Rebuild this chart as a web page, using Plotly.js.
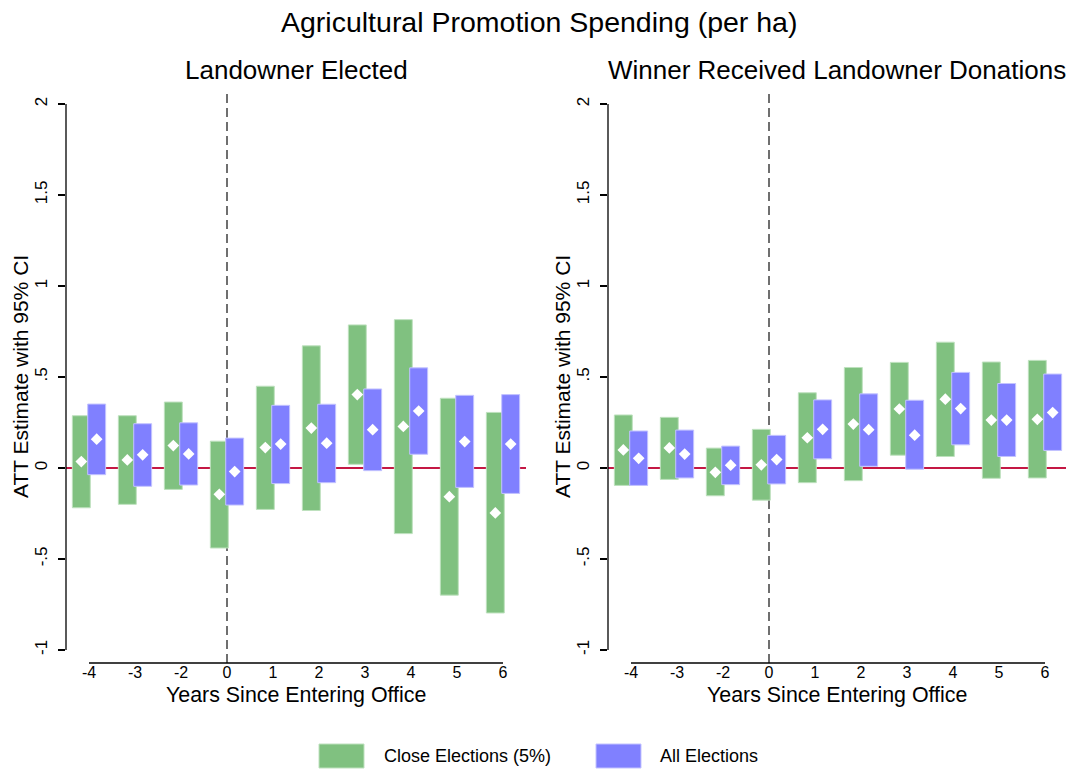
<!DOCTYPE html>
<html>
<head>
<meta charset="utf-8">
<script src="https://cdn.plot.ly/plotly-3.0.1.min.js"></script>
<style>html,body{margin:0;padding:0;background:#fff;}#chart{width:1066px;height:771px;}</style>
</head>
<body>
<div id="chart"></div>
<script>
// ---- data ----
const categories = ["-4","-3","-2","0","1","2","3","4","5","6"];
const yTickVals = [-1, -0.5, 0, 0.5, 1, 1.5, 2];
const yTickText = ["-1", "-.5", "0", ".5", "1", "1.5", "2"];

// Panel 1: Landowner Elected
const closeEst1 = [0.035, 0.044, 0.123, -0.145, 0.112, 0.219, 0.403, 0.228, -0.158, -0.247];
const closeLo1  = [-0.219, -0.200, -0.118, -0.440, -0.228, -0.234, 0.020, -0.361, -0.699, -0.797];
const closeHi1  = [0.287, 0.287, 0.362, 0.147, 0.449, 0.671, 0.786, 0.815, 0.383, 0.305];
const allEst1   = [0.158, 0.072, 0.077, -0.020, 0.131, 0.136, 0.210, 0.313, 0.145, 0.131];
const allLo1    = [-0.037, -0.101, -0.094, -0.204, -0.086, -0.081, -0.015, 0.075, -0.107, -0.140];
const allHi1    = [0.351, 0.243, 0.248, 0.164, 0.344, 0.350, 0.434, 0.550, 0.399, 0.403];

// Panel 2: Winner Received Landowner Donations
const closeEst2 = [0.099, 0.110, -0.024, 0.017, 0.166, 0.241, 0.324, 0.378, 0.263, 0.267];
const closeLo2  = [-0.096, -0.063, -0.153, -0.177, -0.081, -0.070, 0.070, 0.063, -0.057, -0.055];
const closeHi2  = [0.291, 0.278, 0.109, 0.212, 0.413, 0.552, 0.580, 0.691, 0.582, 0.591];
const allEst2   = [0.053, 0.076, 0.015, 0.046, 0.212, 0.210, 0.180, 0.326, 0.263, 0.304];
const allLo2    = [-0.096, -0.055, -0.092, -0.088, 0.050, 0.009, -0.007, 0.127, 0.063, 0.096];
const allHi2    = [0.203, 0.208, 0.120, 0.179, 0.374, 0.407, 0.372, 0.525, 0.464, 0.516];

const seriesNames = ["Close Elections (5%)", "All Elections"];
const panelTitles = ["Landowner Elected", "Winner Received Landowner Donations"];
const mainTitle = "Agricultural Promotion Spending (per ha)";
const xTitle = "Years Since Entering Office";
const yTitle = "ATT Estimate with 95% CI";

// ---- styling ----
const FONT = "Liberation Sans, Arial, Helvetica, sans-serif";
const GREEN = "rgb(128,193,128)";
const BLUE = "rgb(128,128,255)";
const GREEN_EDGE = "rgb(190,225,190)";
const BLUE_EDGE = "rgb(195,195,255)";
const BAR_W = 0.39;
const SHIFT = 0.167;
const W = 1066, H = 771;
const idx = categories.map((c, i) => i);

function px(x) { return x / W; }
function py(y) { return 1 - y / H; }

function panelTraces(est, lo, hi, estB, loB, hiB, xa, ya) {
  const t = [];
  t.push({type: "bar", x: idx, base: lo, y: hi.map((h, i) => h - lo[i]), width: BAR_W, offset: -SHIFT - BAR_W / 2,
    marker: {color: GREEN, line: {color: GREEN_EDGE, width: 1}}, xaxis: xa, yaxis: ya, showlegend: false, hoverinfo: "skip"});
  t.push({type: "bar", x: idx, base: loB, y: hiB.map((h, i) => h - loB[i]), width: BAR_W, offset: SHIFT - BAR_W / 2,
    marker: {color: BLUE, line: {color: BLUE_EDGE, width: 1}}, xaxis: xa, yaxis: ya, showlegend: false, hoverinfo: "skip"});
  t.push({type: "scatter", mode: "markers", x: idx.map(i => i - SHIFT), y: est,
    marker: {symbol: "diamond", color: "white", size: 9}, xaxis: xa, yaxis: ya, showlegend: false, cliponaxis: false});
  t.push({type: "scatter", mode: "markers", x: idx.map(i => i + SHIFT), y: estB,
    marker: {symbol: "diamond", color: "white", size: 9}, xaxis: xa, yaxis: ya, showlegend: false, cliponaxis: false});
  return t;
}

const traces = [].concat(
  panelTraces(closeEst1, closeLo1, closeHi1, allEst1, allLo1, allHi1, "x", "y"),
  panelTraces(closeEst2, closeLo2, closeHi2, allEst2, allLo2, allHi2, "x2", "y2")
);

const plotTop = 104, plotBot = 663;
const p1 = [66, 526], p2 = [608, 1066];
const yDomain = [py(plotBot), py(plotTop)];

function xAxis(dom, range, anchor) {
  return {domain: dom, range: range, anchor: anchor, tickmode: "array", tickvals: idx, ticktext: categories,
    showgrid: false, zeroline: false, showline: false, ticks: "", ticklabelstandoff: -2,
    tickfont: {family: FONT, size: 16, color: "#000"}, fixedrange: true};
}
function yAxis(anchor) {
  return {domain: yDomain, range: [-1.072, 2], anchor: anchor, tickmode: "array", tickvals: yTickVals, ticktext: yTickText,
    tickangle: -90, showgrid: false, zeroline: false, showline: false, ticks: "outside", ticklen: 7, tickwidth: 1.3,
    tickcolor: "#000", ticklabelstandoff: 4, tickfont: {family: FONT, size: 17, color: "#000"}, fixedrange: true};
}

const shapes = [];
const annotations = [];
[["x", "y", p1], ["x2", "y2", p2]].forEach(([xa, ya, p]) => {
  // y axis line from -1 to 2
  shapes.push({type: "line", xref: "paper", yref: ya, x0: px(p[0]), x1: px(p[0]), y0: -1, y1: 2, line: {color: "#000", width: 1.3}});
  // x axis line from first to last category
  shapes.push({type: "line", xref: xa, yref: "paper", x0: 0, x1: categories.length - 1, y0: py(plotBot), y1: py(plotBot), line: {color: "#000", width: 1.3}});
  // zero reference line
  shapes.push({type: "line", xref: "paper", yref: ya, x0: px(p[0]), x1: px(p[1]), y0: 0, y1: 0, line: {color: "rgb(196,24,68)", width: 2}, layer: "below"});
  // dashed line at year 0
  const zi = categories.indexOf("0");
  shapes.push({type: "line", xref: xa, yref: "paper", x0: zi, x1: zi, y0: py(plotBot), y1: py(90), line: {color: "#333", width: 1.4, dash: "9px,5px"}, layer: "below"});
});

const centers = [(p1[0] + p1[1]) / 2, (p2[0] + p2[1]) / 2];
const yAxisX = [p1[0], p2[0]];
panelTitles.forEach((t, i) => {
  annotations.push({text: t, xref: "paper", yref: "paper", x: px(centers[i]), y: py(70), xanchor: "center", yanchor: "middle", showarrow: false,
    font: {family: FONT, size: 26, color: "#000"}});
  annotations.push({text: xTitle, xref: "paper", yref: "paper", x: px(centers[i]), y: py(695), xanchor: "center", yanchor: "middle", showarrow: false,
    font: {family: FONT, size: 21.4, color: "#000"}});
  annotations.push({text: yTitle, xref: "paper", yref: "paper", x: px(yAxisX[i] - 46), y: py(377), xanchor: "center", yanchor: "middle", textangle: -90, showarrow: false,
    font: {family: FONT, size: 21, color: "#000"}});
});
annotations.push({text: mainTitle, xref: "paper", yref: "paper", x: px(539), y: py(22), xanchor: "center", yanchor: "middle", showarrow: false,
  font: {family: FONT, size: 28.5, color: "#000"}});

// legend (drawn manually)
const legendItems = [
  {name: seriesNames[0], color: GREEN, edge: GREEN_EDGE, x0: 319, x1: 364, tx: 382},
  {name: seriesNames[1], color: BLUE, edge: BLUE_EDGE, x0: 596, x1: 641, tx: 658}
];
legendItems.forEach(it => {
  shapes.push({type: "rect", xref: "paper", yref: "paper", x0: px(it.x0), x1: px(it.x1), y0: py(768), y1: py(744), fillcolor: it.color, line: {color: it.edge, width: 1}});
  annotations.push({text: it.name, xref: "paper", yref: "paper", x: px(it.tx), y: py(756), xanchor: "left", yanchor: "middle", showarrow: false,
    font: {family: FONT, size: 18, color: "#000"}});
});

const layout = {
  width: W, height: H, margin: {l: 0, r: 0, t: 0, b: 0, pad: 0},
  paper_bgcolor: "#fff", plot_bgcolor: "rgba(0,0,0,0)",
  barmode: "overlay", showlegend: false,
  font: {family: FONT, color: "#000"},
  xaxis: xAxis([px(p1[0]), px(p1[1])], [-0.5, 9.5], "y"),
  yaxis: yAxis("x"),
  xaxis2: xAxis([px(p2[0]), px(p2[1])], [-0.5, -0.5 + (p2[1] - p2[0]) / 46], "y2"),
  yaxis2: yAxis("x2"),
  shapes: shapes,
  annotations: annotations
};

Plotly.newPlot("chart", traces, layout, {displayModeBar: false, staticPlot: true});
</script>
</body>
</html>
